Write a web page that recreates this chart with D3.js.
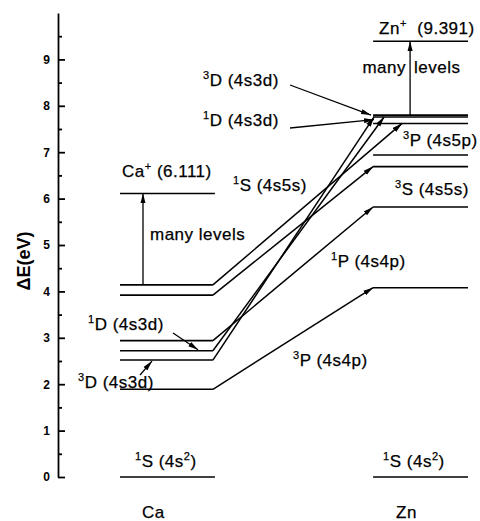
<!DOCTYPE html>
<html>
<head>
<meta charset="utf-8">
<script src="https://cdn.jsdelivr.net/npm/d3@7"></script>
<style>
  body { margin: 0; background: #fff; }
  svg text { font-family: "Liberation Sans", Arial, sans-serif; fill: #000; }
  .lbl { font-size: 17px; letter-spacing: 0.5px; stroke: #000; stroke-width: 0.25px; }
  .axis text { font-size: 12px; font-weight: bold; }
</style>
</head>
<body>
<svg id="chart" width="480" height="521"></svg>
<script>
// energy levels in eV
const atoms = ['Ca', 'Zn'];
const caLevels = [0, 1.89, 2.52, 2.72, 2.94, 3.92, 4.14];
const znLevels = [0, 4.08, 5.82, 6.69, 6.94, 7.62, 7.76, 7.80];
const ionLimits = [6.111, 9.391];
const transfers = [
  {from: 1.89, to: 4.08},
  {from: 2.52, to: 7.76},
  {from: 2.72, to: 7.76},
  {from: 2.94, to: 5.82},
  {from: 3.92, to: 6.69},
  {from: 4.14, to: 7.62}
];
const yTicks = [0, 1, 2, 3, 4, 5, 6, 7, 8, 9];
const yMinorTicks = [0.5, 1.5, 2.5, 3.5, 4.5, 5.5, 6.5, 7.5, 8.5, 9.5];

const svg = d3.select('#chart');

const y = d3.scaleLinear().domain([0, 10]).range([477, 13]);
const x = d3.scaleBand().domain(atoms).range([120, 468]).paddingInner(0.625);
const bw = x.bandwidth();

// arrow head
svg.append('defs').append('marker')
  .attr('id', 'head')
  .attr('markerUnits', 'userSpaceOnUse')
  .attr('viewBox', '0 -3 10 6')
  .attr('refX', 10).attr('refY', 0)
  .attr('markerWidth', 10).attr('markerHeight', 6)
  .attr('orient', 'auto')
  .append('path')
  .attr('d', 'M0,-2.6L10,0L0,2.6Z')
  .attr('fill', '#000');

// y axis
const axisG = svg.append('g')
  .attr('class', 'axis')
  .attr('transform', 'translate(58,0)');

axisG.call(d3.axisLeft(y).tickValues(yTicks).tickSize(-7).tickSizeOuter(0).tickPadding(8));
axisG.append('g')
  .call(d3.axisLeft(y).tickValues(yMinorTicks).tickSize(-4).tickSizeOuter(0).tickFormat(''))
  .select('.domain').remove();
axisG.selectAll('path, line').attr('stroke', '#000').attr('stroke-width', 1.8);

svg.append('text')
  .attr('transform', 'translate(30,261) rotate(-90)')
  .attr('text-anchor', 'middle')
  .style('font-size', '18px')
  .style('font-weight', 'bold')
  .text('ΔE(eV)');

// level lines
const caEnd = x('Ca') + bw - 2;
const levels = [
  ...caLevels.map(v => ({atom: 'Ca', v})),
  ...znLevels.map(v => ({atom: 'Zn', v})),
  {atom: 'Ca', v: ionLimits[0]},
  {atom: 'Zn', v: ionLimits[1]}
];

svg.append('g').selectAll('line')
  .data(levels)
  .join('line')
  .attr('x1', d => x(d.atom))
  .attr('x2', d => d.atom === 'Ca' && d.v > 0 && d.v < 5 ? caEnd : x(d.atom) + bw)
  .attr('y1', d => y(d.v))
  .attr('y2', d => y(d.v))
  .attr('stroke', '#000')
  .attr('stroke-width', 1.6);

// transfer lines Ca -> Zn
const endShift = {2.52: 1, 2.72: 11, 4.14: 29};
svg.append('g').selectAll('line')
  .data(transfers)
  .join('line')
  .attr('x1', caEnd)
  .attr('y1', d => y(d.from))
  .attr('x2', d => x('Zn') + (endShift[d.from] || 0))
  .attr('y2', d => y(d.to))
  .attr('stroke', '#000')
  .attr('stroke-width', 1.5)
  .attr('marker-end', 'url(#head)');

// "many levels" arrows up to the ion limits
const ups = [
  {x: x('Ca') + 23, from: caLevels[6], to: ionLimits[0]},
  {x: x('Zn') + 37, from: znLevels[7], to: ionLimits[1]}
];
svg.append('g').selectAll('line')
  .data(ups)
  .join('line')
  .attr('x1', d => d.x).attr('x2', d => d.x)
  .attr('y1', d => y(d.from)).attr('y2', d => y(d.to))
  .attr('stroke', '#000')
  .attr('stroke-width', 1.3)
  .attr('marker-end', 'url(#head)');

// pointer arrows next to labels
const pointers = [
  [290, 85, 371, y(7.80)],
  [290, 128, 374, y(7.70)],
  [140, 375, 152, y(2.52) + 1],
  [173, 333, 198, y(2.72) - 1]
];
svg.append('g').selectAll('line')
  .data(pointers)
  .join('line')
  .attr('x1', d => d[0]).attr('y1', d => d[1])
  .attr('x2', d => d[2]).attr('y2', d => d[3])
  .attr('stroke', '#000')
  .attr('stroke-width', 1.3)
  .attr('marker-end', 'url(#head)');

// labels, "^" marks a one-character superscript
function rich(sel, str) {
  let up = false;
  str.split(/(\^.)/).filter(s => s.length).forEach(part => {
    const t = sel.append('tspan');
    if (part[0] === '^') {
      t.text(part[1]).style('font-size', '11px').attr('dy', up ? 0 : -7);
      up = true;
    } else {
      t.text(part);
      if (up) t.attr('dy', 7);
      up = false;
    }
  });
}

const labels = [
  ['^1S (4s^2)', x('Ca') + 15, y(0) - 10],
  ['^3D (4s3d)', 78, y(caLevels[1]) - 1],
  ['^1D (4s3d)', 88, 330],
  ['Ca^+ (6.111)', x('Ca') + 2, y(ionLimits[0]) - 16],
  ['many levels', 150, 240],
  ['^1S (4s5s)', 233, 191],
  ['^3P (4s4p)', 293, 366],
  ['^1P (4s4p)', 331, 267],
  ['^3D (4s3d)', 203, 86],
  ['^1D (4s3d)', 203, 126],
  ['Zn^+  (9.391)', x('Zn') + 6, y(ionLimits[1]) - 7],
  ['levels', 414, 73],
  ['^3P (4s5p)', 403, 146],
  ['^3S (4s5s)', 395, 195],
  ['^1S (4s^2)', x('Zn') + 10, y(0) - 10]
];

labels.forEach(([s, lx, ly]) => {
  const t = svg.append('text').attr('class', 'lbl').attr('x', lx).attr('y', ly)
    .style('white-space', 'pre');
  rich(t, s);
});

svg.append('text').attr('class', 'lbl')
  .attr('x', 406).attr('y', 73)
  .attr('text-anchor', 'end')
  .text('many');

svg.append('g').selectAll('text')
  .data(atoms)
  .join('text')
  .attr('class', 'lbl')
  .attr('x', d => x(d) + bw / 2 - 14)
  .attr('y', 518)
  .attr('text-anchor', 'middle')
  .text(d => d);
</script>
</body>
</html>
